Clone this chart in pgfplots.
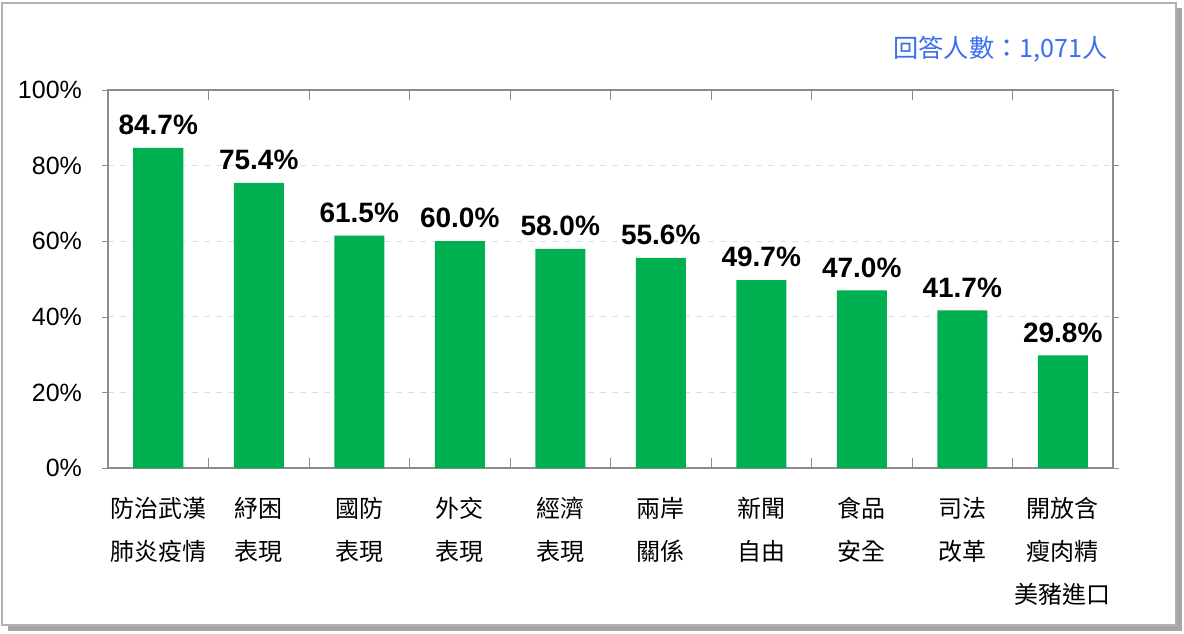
\documentclass[border=0pt]{standalone}
\usepackage{pgfplots}
\pgfplotsset{compat=1.18}
\usepackage{fontspec}
\setmainfont{Liberation Sans}
\newfontfamily\cjk{Noto Sans CJK TC}
\definecolor{bargreen}{HTML}{00B050}
\definecolor{noteblue}{RGB}{60,110,240}
\definecolor{axisgrey}{HTML}{8C8C8C}
\begin{document}
\begin{tikzpicture}
% page frame (coordinates in pt, half the reference pixels, y upwards)
\path[use as bounding box] (0pt,0pt) rectangle (592pt,316.5pt);
\fill[gray!70] (4pt,1pt) rectangle (591pt,312.5pt);
\fill[white] (1pt,4pt) rectangle (588pt,315pt);
\draw[gray!60,line width=1pt] (1pt,4pt) rectangle (588pt,315pt);
\node[anchor=east,text=noteblue,font=\cjk\fontsize{12.6}{14}\selectfont,inner sep=0pt] at (554pt,292pt) {回答人數：1,071人};
\begin{axis}[
  at={(54pt,82.5pt)}, anchor=south west,
  scale only axis,
  width=502.5pt, height=189pt,
  ymin=0, ymax=100,
  xmin=-0.5, xmax=9.5,
  ytick={0,20,...,100},
  yticklabel={\pgfmathprintnumber{\tick}\%},
  /pgf/number format/assume math mode=true,
  yticklabel style={font=\fontsize{12.5}{14}\selectfont, xshift=-6.5pt},
  y tick style={axisgrey},
  tick align=outside,
  major tick length=3pt,
  ymajorgrids,
  grid style={dashed,gray!25},
  axis line style={axisgrey, line width=0.8pt},
  xtick=data,
  xticklabels={
    {防治武漢\\肺炎疫情},{紓困\\表現},{國防\\表現},{外交\\表現},{經濟\\表現},
    {兩岸\\關係},{新聞\\自由},{食品\\安全},{司法\\改革},{開放含\\瘦肉精\\美豬進口}},
  xticklabel style={align=center, font=\cjk\fontsize{12}{21.5}\selectfont, anchor=north, yshift=-8pt},
  major x tick style={draw=none},
  extra x ticks={0.5,1.5,...,8.5},
  extra x tick labels={},
  extra x tick style={tick align=inside, major tick length=5pt, major x tick style={draw=axisgrey}, grid=none},
  ybar, bar width=25pt,
  nodes near coords={\pgfmathprintnumber[fixed,fixed zerofill,precision=1]{\pgfplotspointmeta}\%},
  nodes near coords style={font=\bfseries\fontsize{14}{16}\selectfont, black, yshift=3pt},
]
\addplot[fill=bargreen, draw=none] coordinates {
  (0,84.7) (1,75.4) (2,61.5) (3,60.0) (4,58.0)
  (5,55.6) (6,49.7) (7,47.0) (8,41.7) (9,29.8)};
\end{axis}
\end{tikzpicture}
\end{document}
